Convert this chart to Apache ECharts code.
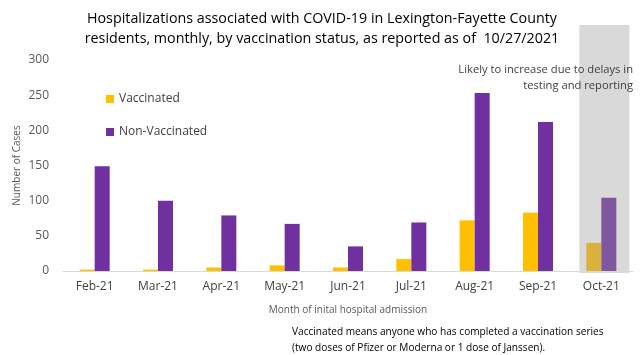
<!DOCTYPE html>
<html><head><meta charset="utf-8">
<script src="https://cdn.jsdelivr.net/npm/echarts@6/dist/echarts.min.js"></script>
<style>html,body{margin:0;padding:0;background:#fff}#c{width:640px;height:355px}</style>
</head><body><div id="c"></div>
<script>
const categories = ['Feb-21','Mar-21','Apr-21','May-21','Jun-21','Jul-21','Aug-21','Sep-21','Oct-21'];
const vaccinated = [2, 2, 5, 8, 5, 17, 72, 83, 40];
const nonVaccinated = [149, 100, 79, 67, 35, 69, 253, 212, 104];
const yTicks = [0, 50, 100, 150, 200, 250, 300];
const incompleteMonth = 'Oct-21';

const FONT = 'Open Sans';
const chart = echarts.init(document.getElementById('c'));
function styled(vals, base, muted) {
  return vals.map((v, i) => categories[i] === incompleteMonth ? {value: v, itemStyle: {color: muted}} : {value: v, itemStyle: {color: base}});
}
chart.setOption({
  animation: false,
  textStyle: {fontFamily: FONT},
  title: {
    text: 'Hospitalizations associated with COVID-19 in Lexington-Fayette County\nresidents, monthly, by vaccination status, as reported as of  10/27/2021',
    left: 317, textAlign: 'center', top: 4,
    textStyle: {fontSize: 14.3, fontWeight: 'normal', color: '#000', lineHeight: 20, fontFamily: FONT}
  },
  legend: {
    orient: 'vertical', left: 101, top: 88, itemWidth: 8, itemHeight: 8, itemGap: 21,
    icon: 'rect',
    textStyle: {fontSize: 12, color: '#404040', fontFamily: FONT},
    data: [{name: 'Vaccinated', itemStyle: {color: '#FFC000'}}, {name: 'Non-Vaccinated', itemStyle: {color: '#7030A0'}}]
  },
  grid: {left: 63, right: 7, top: 60, bottom: 84},
  xAxis: {
    type: 'category', data: categories,
    axisLine: {lineStyle: {color: '#D9D9D9', width: 1}}, axisTick: {show: false},
    axisLabel: {fontSize: 12, color: '#404040', margin: 10, fontFamily: FONT},
    name: 'Month of inital hospital admission', nameLocation: 'middle', nameGap: 34,
    nameTextStyle: {fontSize: 10, color: '#595959', fontFamily: FONT}
  },
  yAxis: {
    type: 'value', min: 0, max: 300, interval: 50,
    splitLine: {show: false}, axisLine: {show: false}, axisTick: {show: false},
    axisLabel: {fontSize: 12, color: '#595959', margin: 14, fontFamily: FONT,
      formatter: v => yTicks.includes(v) ? String(v) : ''}
  },
  series: [
    {name: 'Vaccinated', type: 'bar', barWidth: 15, barGap: '0%', itemStyle: {color: '#FFC000'},
     data: styled(vaccinated, '#FFC000', '#D9B13B'), z: 3},
    {name: 'Non-Vaccinated', type: 'bar', barWidth: 15, barGap: '0%', itemStyle: {color: '#7030A0'},
     data: styled(nonVaccinated, '#7030A0', '#7F579F'), z: 3}
  ]
});
const cx = chart.convertToPixel({xAxisIndex: 0}, incompleteMonth);
const cx2 = chart.convertToPixel({xAxisIndex: 0}, categories[categories.length - 2]);
const bw = (cx - cx2) * 0.79;
const y0 = chart.convertToPixel({yAxisIndex: 0}, 0);
const yTop = chart.convertToPixel({yAxisIndex: 0}, 300);
chart.setOption({
  graphic: [
    {type: 'rect', shape: {x: cx - bw / 2 + 3, y: 25, width: bw, height: y0 - 25 + 2}, style: {fill: '#D9D9D9'}, z: -1, silent: true},
    {type: 'text', x: 17, y: (y0 + yTop) / 2, rotation: Math.PI / 2, style: {text: 'Number of Cases', align: 'center', verticalAlign: 'middle', fontSize: 10, fill: '#595959', fontFamily: FONT}, z: 10},
    {type: 'text', x: 633, y: 62, style: {text: 'Likely to increase due to delays in\ntesting and reporting', align: 'right', fontSize: 11.2, lineHeight: 16, fill: '#404040', fontFamily: FONT}, z: 10},
    {type: 'text', x: 292, y: 324, style: {text: 'Vaccinated means anyone who has completed a vaccination series\n(two doses of Pfizer or Moderna or 1 dose of Janssen).', fontSize: 10.1, lineHeight: 16, fill: '#000', fontFamily: FONT}, z: 10}
  ]
});
</script></body></html>
